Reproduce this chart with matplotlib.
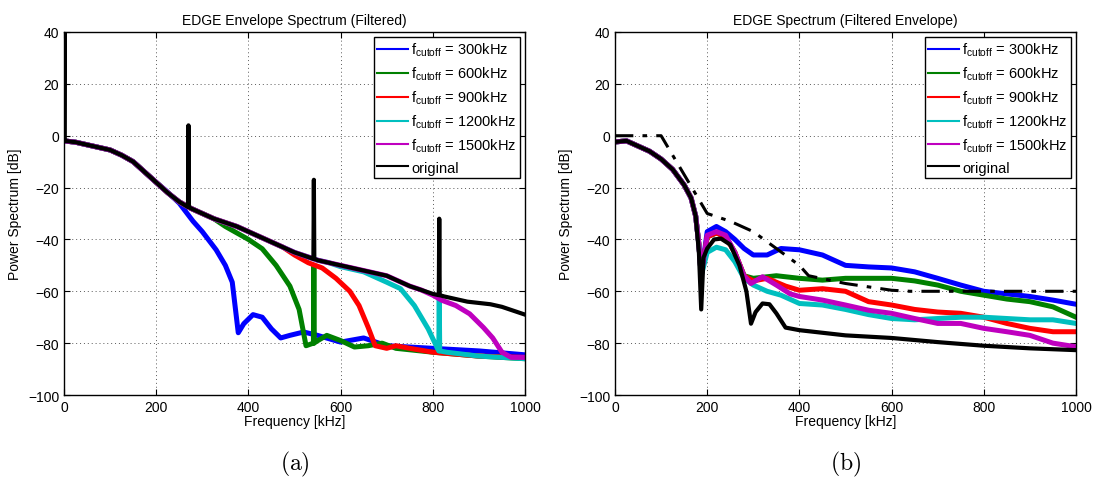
import numpy as np
import matplotlib.pyplot as plt

plt.rcParams['font.family'] = ['Liberation Sans', 'DejaVu Sans']
plt.rcParams['mathtext.default'] = 'regular'

# ---- (a) EDGE Envelope Spectrum (Filtered) ----
a_orig_f = [0, 1, 1.5, 2, 25, 50, 75, 100, 125, 150, 175, 200, 225, 250, 269, 270, 271,
            275, 300, 325, 350, 375, 400, 425, 450, 475, 500, 525, 541, 542, 543, 550,
            575, 600, 625, 650, 675, 700, 725, 750, 775, 800, 813, 814, 815, 825, 850,
            875, 900, 925, 950, 975, 1000]
a_orig_p = [-2, 40, -2, -2, -2.5, -3.5, -4.5, -5.5, -7.5, -10, -14, -18, -22, -25.5, -27.5, 4, -27.5,
            -28, -30, -32, -33.5, -35, -37, -39, -41, -43, -45, -46.5, -47.5, -17, -47.5, -48,
            -49, -50, -51, -52, -53, -54, -56, -58, -59.5, -61, -61.5, -32, -61.5, -62, -63,
            -64, -64.5, -65, -66, -67.5, -69]

a_300_f = [0, 25, 50, 75, 100, 125, 150, 175, 200, 220, 250, 280, 300, 330, 350, 365,
           378, 390, 410, 430, 450, 470, 490, 520, 550, 600, 650, 700, 800, 900, 1000]
a_300_p = [-2, -2.5, -3.5, -4.5, -5.5, -7.5, -10, -14, -18, -21, -26, -33, -37, -44, -50, -56.5,
           -76, -72.5, -69, -70, -74.5, -78, -77, -75.7, -77, -79.6, -78, -81, -82, -83, -84.5]

a_600_f = [0, 25, 50, 75, 100, 125, 150, 175, 200, 225, 250, 275, 300, 325, 350, 380,
           400, 430, 460, 490, 510, 525, 541, 542, 543, 545, 570, 600, 630, 660, 690, 720,
           800, 900, 1000]
a_600_p = [-2, -2.5, -3.5, -4.5, -5.5, -7.5, -10, -14, -18, -22, -25.5, -28, -30, -32, -35, -38,
           -40, -43.6, -50, -58, -67, -81, -80, -50, -80, -79.6, -77, -79, -81.5, -81, -80, -82,
           -83.5, -85, -86]

a_900_f = [0, 25, 50, 75, 100, 125, 150, 175, 200, 225, 250, 275, 300, 325, 350, 375,
           400, 425, 450, 475, 500, 530, 560, 590, 620, 640, 660, 675, 700, 720, 750,
           800, 900, 1000]
a_900_p = [-2, -2.5, -3.5, -4.5, -5.5, -7.5, -10, -14, -18, -22, -25.5, -28, -30, -32, -33.5, -35,
           -37, -39, -41, -43, -46, -49, -51, -55, -60, -65.5, -74, -81, -82, -81, -82,
           -83.5, -85, -85.5]

a_1200_f = [0, 25, 50, 75, 100, 125, 150, 175, 200, 225, 250, 275, 300, 325, 350, 375,
            400, 425, 450, 475, 500, 525, 550, 575, 600, 650, 700, 730, 760, 790, 810,
            813, 814, 815, 830, 900, 1000]
a_1200_p = [-2, -2.5, -3.5, -4.5, -5.5, -7.5, -10, -14, -18, -22, -25.5, -28, -30, -32, -33.5, -35,
            -37, -39, -41, -43, -45, -46.5, -48, -49, -50.5, -52.5, -56.5, -59, -65.5, -74.5, -82,
            -83, -62, -83, -83.5, -85, -86]

a_1500_f = [0, 25, 50, 75, 100, 125, 150, 175, 200, 225, 250, 275, 300, 325, 350, 375,
            400, 425, 450, 475, 500, 525, 550, 575, 600, 625, 650, 675, 700, 725, 750,
            775, 800, 820, 850, 880, 910, 930, 950, 970, 1000]
a_1500_p = [-2, -2.5, -3.5, -4.5, -5.5, -7.5, -10, -14, -18, -22, -25.5, -28, -30, -32, -33.5, -35,
            -37, -39, -41, -43, -45, -46.5, -48, -49, -50, -51, -52, -53, -54, -56, -58,
            -59.5, -61.5, -63.5, -65.5, -68.7, -74, -78, -83.5, -85.5, -85.5]

# ---- (b) EDGE Spectrum (Filtered Envelope) ----
b_orig_f = [0, 25, 50, 75, 100, 125, 150, 165, 175, 182, 187, 192, 200, 215, 230, 250, 270,
            285, 295, 305, 320, 335, 350, 370, 400, 500, 600, 700, 800, 900, 1000]
b_orig_p = [-2.4, -2, -4, -6, -9, -13, -19, -24, -31, -45, -67, -47, -43.5, -40, -39.7, -42, -50,
            -60, -72.5, -68, -64.7, -65, -68.5, -74, -75, -77, -78, -79.6, -81, -82, -82.7]

b_300_f = [0, 25, 50, 75, 100, 125, 150, 165, 175, 182, 187, 200, 220, 240, 260, 280,
           300, 330, 360, 400, 450, 500, 550, 600, 650, 700, 750, 800, 850, 900, 950, 1000]
b_300_p = [-2.4, -2, -4, -6, -9, -13, -19, -24, -31, -42, -54, -37, -35, -37, -40, -43.5,
           -46, -46, -43.5, -44, -46, -50, -50.6, -51, -52.5, -55, -57.6, -60, -61, -62, -63.4, -65]

b_600_f = [0, 25, 50, 75, 100, 125, 150, 165, 175, 182, 187, 200, 220, 240, 260, 280,
           300, 350, 400, 450, 500, 550, 600, 650, 700, 750, 800, 850, 900, 950, 1000]
b_600_p = [-2.4, -2, -4, -6, -9, -13, -19, -24, -31, -42, -54, -39, -37.5, -39, -45, -54,
           -55, -54, -55, -55.7, -55, -55, -55, -56, -57.6, -60, -61.5, -63, -64, -66, -70]

b_900_f = [0, 25, 50, 75, 100, 125, 150, 165, 175, 182, 187, 200, 220, 240, 260, 280,
           300, 330, 370, 400, 450, 500, 550, 600, 650, 700, 750, 800, 850, 900, 950, 1000]
b_900_p = [-2.4, -2, -4, -6, -9, -13, -19, -24, -31, -42, -54, -39, -37.5, -39, -45, -54,
           -56, -55, -58, -59.6, -59, -60, -64, -65.3, -67, -68, -68.5, -70, -72.4, -74.3, -75.6, -75.6]

b_1200_f = [0, 25, 50, 75, 100, 125, 150, 165, 175, 182, 187, 200, 220, 240, 260, 280,
            300, 330, 360, 400, 450, 500, 550, 600, 650, 700, 750, 800, 850, 900, 950, 1000]
b_1200_p = [-2.4, -2, -4, -6, -9, -13, -19, -24, -31, -42, -54, -45, -43, -44, -48.6, -55,
            -57.6, -60, -61.5, -64.7, -65.3, -67, -69, -70.5, -71, -70.5, -70, -70, -70.5, -71, -71, -72.4]

b_1500_f = [0, 25, 50, 75, 100, 125, 150, 165, 175, 182, 187, 200, 220, 240, 260, 280,
            295, 320, 350, 380, 400, 450, 500, 550, 600, 650, 700, 750, 800, 850, 900, 950, 1000]
b_1500_p = [-2.4, -2, -4, -6, -9, -13, -19, -24, -31, -42, -54, -38.4, -37, -38.4, -45, -54,
            -57, -54.4, -57.6, -61, -62, -63.4, -65.3, -67.3, -68.5, -70.5, -72.4, -72.4, -74.3, -75.6,
            -77, -80, -81.4]

mask_f = [0, 100, 200, 250, 300, 350, 400, 420, 500, 600, 640, 1000]
mask_p = [0, 0, -30, -33, -37, -43.5, -50, -54, -57, -59.6, -60, -60]

labels = [r'f$_{cutoff}$ = 300kHz', r'f$_{cutoff}$ = 600kHz', r'f$_{cutoff}$ = 900kHz',
          r'f$_{cutoff}$ = 1200kHz', r'f$_{cutoff}$ = 1500kHz', 'original']
colors = ['#0000ff', '#008000', '#ff0000', '#00bfbf', '#bf00bf', '#000000']

fig = plt.figure(figsize=(11.01, 4.81), dpi=100)
ax1 = fig.add_axes([64 / 1101, 1 - 396 / 481, 461 / 1101, 363 / 481])
ax2 = fig.add_axes([615 / 1101, 1 - 396 / 481, 461 / 1101, 363 / 481])

series_a = [(a_300_f, a_300_p), (a_600_f, a_600_p), (a_900_f, a_900_p),
            (a_1200_f, a_1200_p), (a_1500_f, a_1500_p), (a_orig_f, a_orig_p)]
series_b = [(b_300_f, b_300_p), (b_600_f, b_600_p), (b_900_f, b_900_p),
            (b_1200_f, b_1200_p), (b_1500_f, b_1500_p), (b_orig_f, b_orig_p)]

for ax, series in [(ax1, series_a), (ax2, series_b)]:
    for (f, p), c, lab in zip(series, colors, labels):
        lw = 3.0 if lab == 'original' else 3.6
        ax.plot(f, p, color=c, lw=lw, label=lab)

ax2.plot(mask_f, mask_p, color='k', lw=2.2, ls=(0, (6, 3, 1.5, 3)))

titles = ['EDGE Envelope Spectrum (Filtered)', 'EDGE Spectrum (Filtered Envelope)']
panel = ['(a)', '(b)']
for ax, t, pl in zip([ax1, ax2], titles, panel):
    ax.set_xlim(0, 1000)
    ax.set_ylim(-100, 40)
    ax.set_xticks([0, 200, 400, 600, 800, 1000])
    ax.set_yticks([-100, -80, -60, -40, -20, 0, 20, 40])
    ax.grid(True, color='0.35', ls=(0, (1, 3)), lw=0.7)
    ax.tick_params(direction='in', labelsize=10, top=True, right=True, length=4)
    ax.set_title(t, fontsize=10, pad=6)
    ax.set_xlabel('Frequency [kHz]', fontsize=10, labelpad=0)
    ax.set_ylabel('Power Spectrum [dB]', fontsize=10, labelpad=4)
    for s in ax.spines.values():
        s.set_linewidth(1.0)
    leg = ax.legend(loc='upper right', fontsize=10.5, frameon=True, fancybox=False,
                    framealpha=1, edgecolor='k', borderpad=0.25, labelspacing=0.45,
                    handlelength=2.1, handletextpad=0.2, borderaxespad=0.35)
    leg.get_frame().set_linewidth(1.0)
    for line in leg.get_lines():
        line.set_linewidth(1.5)
    pos = ax.get_position()
    fig.text(pos.x0 + pos.width / 2, 0.035, r'$\mathrm{' + pl + '}$', ha='center',
             va='center', fontsize=17, math_fontfamily='cm')

fig.savefig('out.png', dpi=100)
